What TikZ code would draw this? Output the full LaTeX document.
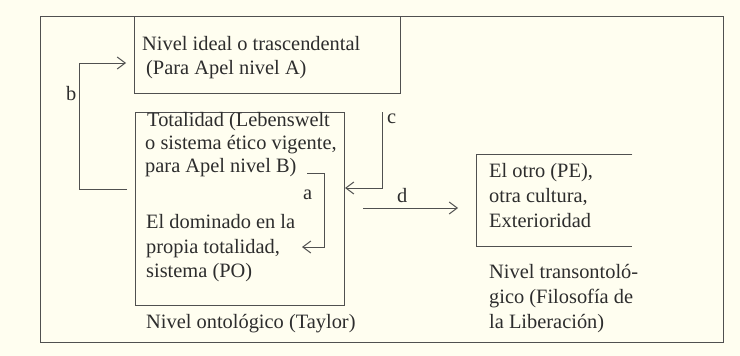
\documentclass[tikz,border=0pt]{standalone}
\usepackage{fontspec}
\setmainfont{Liberation Serif}
\usetikzlibrary{arrows.meta}
\definecolor{paper}{RGB}{255,254,240}
\definecolor{ink}{RGB}{80,80,80}
\definecolor{txt}{RGB}{45,45,45}
\begin{document}
\begin{tikzpicture}[x=1pt,y=-1pt,
  box/.style={draw=ink, line width=1pt, inner sep=0pt, anchor=north west},
  area/.style={inner sep=0pt, anchor=north west},
  lbl/.style={anchor=base west, inner sep=0pt, text=txt, font=\fontsize{20.4}{24}\selectfont},
  conn/.style={draw=ink, line width=1pt},
  arr/.style={conn, -{Straight Barb[length=8pt,width=12pt]}}]
\fill[paper] (0,0) rectangle (740,356);
\useasboundingbox (0,0) rectangle (740,356);
% boxes
\node[box, minimum width=683pt, minimum height=326pt] (outer) at (40,16) {};
\node[box, minimum width=266pt, minimum height=77pt] (ideal) at (134,16) {};
\node[box, minimum width=209pt, minimum height=193pt] (tot) at (135,112) {};
\node[area, minimum width=156pt, minimum height=92pt] (otro) at (476,154) {};
\draw[conn] (otro.north east) -- (otro.north west) -- (otro.south west) -- (otro.south east);
% texts
\node[lbl] (i1) at (142,50) {Nivel ideal o trascendental};
\node[lbl] (i2) at (146,74) {(Para Apel nivel A)};
\node[lbl] (t1) at (147,126) {Totalidad (Lebenswelt};
\node[lbl] (t2) at (145,149) {o sistema ético vigente,};
\node[lbl] (t3) at (145,172) {para Apel nivel B)};
\node[lbl] (t4) at (146,228) {El dominado en la};
\node[lbl] (t5) at (146,253) {propia totalidad,};
\node[lbl] (t6) at (146,277) {sistema (PO)};
\node[lbl] (on) at (146,328) {Nivel ontológico (Taylor)};
\node[lbl] (o1) at (489,177) {El otro (PE),};
\node[lbl] (o2) at (489,202) {otra cultura,};
\node[lbl] (o3) at (489,227) {Exterioridad};
\node[lbl] (n1) at (489,278) {Nivel transontoló-};
\node[lbl] (n2) at (489,303) {gico (Filosofía de};
\node[lbl] (n3) at (489,328) {la Liberación)};
\node[lbl] (lb) at (66,100) {b};
\node[lbl] (la) at (303,199) {a};
\node[lbl] (lc) at (387,123) {c};
\node[lbl] (ld) at (397,202) {d};
% connector points
\coordinate (bS) at (127,189);
\coordinate (bC) at (79,63);
\coordinate (bE) at (126,63);
\coordinate (aS) at (307,173);
\coordinate (aC) at (324,247);
\coordinate (aE) at (302,247);
\coordinate (cS) at (382,112);
\coordinate (cC) at (382,188);
\coordinate (dS) at (363,208);
\coordinate (dE) at (458,208);
% connectors
\draw[arr] (bS) -| (bC) -- (bE);
\draw[arr] (aS) -| (aC) -- (aE);
\draw[arr] (cS) -- (cC) -- (tot.east |- cC);
\draw[arr] (dS) -- (dE);
\end{tikzpicture}
\end{document}
